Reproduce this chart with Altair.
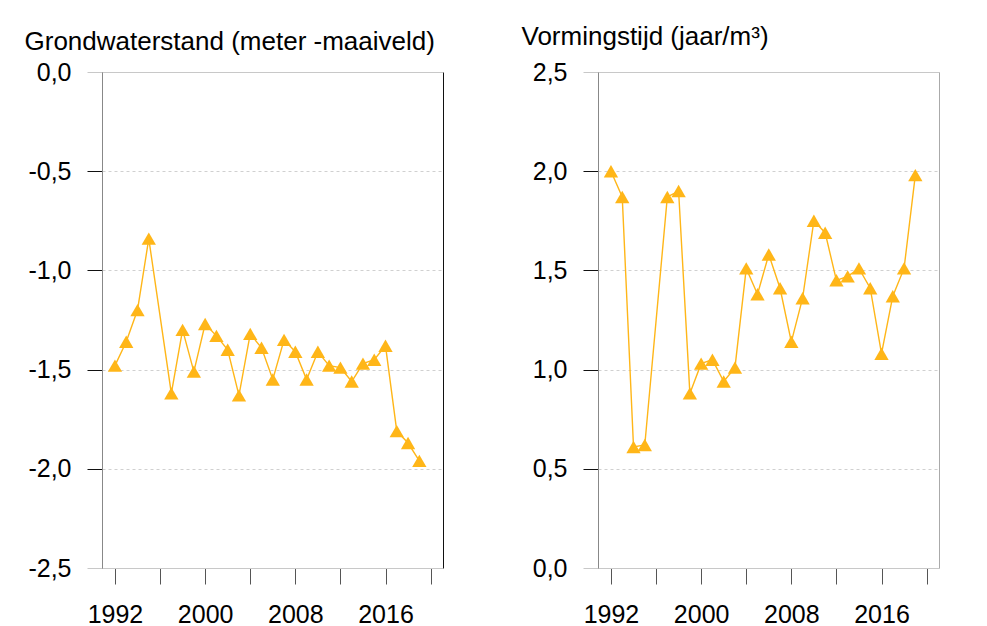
import altair as alt
import pandas as pd

# ---- data ----
years = [1992, 1993, 1994, 1995, 1997, 1998, 1999, 2000, 2001, 2002, 2003, 2004, 2005,
         2006, 2007, 2008, 2009, 2010, 2011, 2012, 2013, 2014, 2015, 2016, 2017, 2018, 2019]
grondwaterstand = [-1.48, -1.36, -1.20, -0.84, -1.62, -1.30, -1.51, -1.27, -1.33, -1.40,
                   -1.63, -1.32, -1.39, -1.55, -1.35, -1.41, -1.55, -1.41, -1.48, -1.49,
                   -1.56, -1.47, -1.45, -1.38, -1.81, -1.87, -1.96]
vormingstijd = [2.00, 1.87, 0.61, 0.62, 1.87, 1.90, 0.88, 1.03, 1.05, 0.94, 1.01, 1.51,
                1.38, 1.58, 1.41, 1.14, 1.36, 1.75, 1.69, 1.45, 1.47, 1.51, 1.41, 1.08,
                1.37, 1.51, 1.98]
x_ticks = [1992, 1996, 2000, 2004, 2008, 2012, 2016, 2020]
left_yticks = [-2.5, -2.0, -1.5, -1.0, -0.5, 0.0]
right_yticks = [0.0, 0.5, 1.0, 1.5, 2.0, 2.5]
left_title = "Grondwaterstand (meter -maaiveld)"
right_title = "Vormingstijd (jaar/m³)"

df = pd.DataFrame({"year": years, "gws": grondwaterstand, "vt": vormingstijd})

FONT = "Liberation Sans"
COLOR = "#FFB618"

label_expr = ("(datum.value < 0 ? '-' : '') + "
              "replace(format(abs(datum.value), '.1f'), '.', ',')")


def panel(field, domain, yticks, title, title_x, title_y, right_stroke, end_test):
    xscale = alt.Scale(domain=[1990.85, 2021.1], nice=False, zero=False)
    yscale = alt.Scale(domain=domain, nice=False, zero=False)
    yaxis = alt.Axis(
        values=yticks, labelExpr=label_expr, tickSize=15, labelPadding=16,
        labelFont=FONT, labelFontSize=25, labelColor="#000",
        domainColor="#888888", domainWidth=1,
        tickColor=alt.condition(end_test, alt.value("#c8c8c8"), alt.value("#111111")),
        tickWidth=1,
        grid=True, gridColor="#d0d0d0", gridDash=[3, 3], gridWidth=1,
        title=title, titleAngle=0, titleAlign="left", titleBaseline="alphabetic",
        titleX=title_x, titleY=title_y, titleFont=FONT, titleFontSize=26,
        titleFontWeight="normal", titleColor="#000",
        labelOverlap=False,
    )
    xaxis = alt.Axis(
        values=x_ticks, labelExpr="datum.value % 8 == 0 ? format(datum.value, 'd') : ''",
        tickSize=16, tickColor="#555555", tickWidth=1, labelPadding=18,
        labelFont=FONT, labelFontSize=25, labelColor="#000",
        domainColor="#c8c8c8", grid=False, title=None, labelOverlap=False,
        labelFlush=False,
    )
    top_axis = alt.Axis(orient="top", labels=False, ticks=False, domainColor="#c8c8c8",
                        grid=False, title=None)
    line = alt.Chart(df).mark_line(color=COLOR, strokeWidth=1.4).encode(
        x=alt.X("year:Q", scale=xscale, axis=xaxis),
        y=alt.Y(f"{field}:Q", scale=yscale, axis=yaxis),
    )
    pts = alt.Chart(df).mark_point(shape="triangle-up", filled=True, size=205,
                                   color=COLOR, opacity=1).encode(
        x=alt.X("year:Q", scale=xscale, axis=top_axis),
        y=alt.Y(f"{field}:Q", scale=yscale, axis=yaxis),
    )
    return alt.layer(line, pts).resolve_axis(x="independent").properties(
        width=341, height=496,
        view=alt.ViewBackground(stroke=right_stroke, strokeWidth=1),
    )


left = panel("gws", [-2.5, 0.0], left_yticks, left_title, -78, -23, "#111111",
             "datum.value == 0 || datum.value == -2.5")
right = panel("vt", [0.0, 2.5], right_yticks, right_title, -77, -28, "#aaaaaa",
              "datum.value == 0 || datum.value == 2.5")

chart = alt.hconcat(left, right, spacing=76).properties(
    padding={"left": 15, "top": 14, "right": 0, "bottom": 0},
    background="white",
)

chart.save("out.html", embed_options={"renderer": "svg", "actions": False})
